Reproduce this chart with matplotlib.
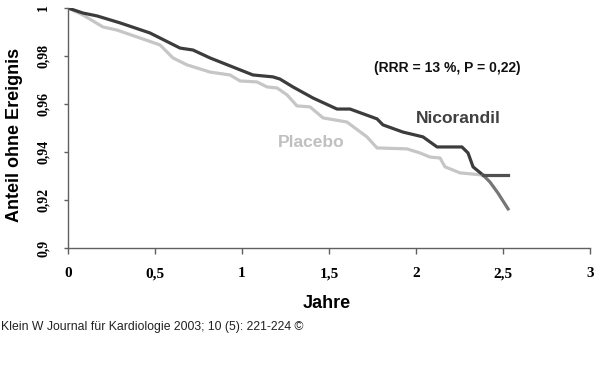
import numpy as np
import matplotlib
matplotlib.use("Agg")
import matplotlib.pyplot as plt

# Kaplan-Meier curves (years, proportion event-free)
nico_t = [0, 0.086, 0.167, 0.299, 0.471, 0.644, 0.718, 0.816, 0.948, 1.063, 1.178,
          1.218, 1.293, 1.408, 1.546, 1.621, 1.776, 1.810, 1.925, 2.040, 2.121,
          2.264, 2.299, 2.328, 2.385, 2.425, 2.471, 2.529]
nico_v = [1.0, 0.9979, 0.9967, 0.9938, 0.9896, 0.9833, 0.9825, 0.9792, 0.9754, 0.9721, 0.9713,
          0.9704, 0.9671, 0.9625, 0.9579, 0.9579, 0.9538, 0.9513, 0.9483, 0.9463, 0.9421,
          0.9421, 0.9396, 0.9338, 0.9304, 0.9275, 0.9229, 0.9163]

plac_t = [0, 0.086, 0.201, 0.282, 0.414, 0.529, 0.603, 0.684, 0.816, 0.931, 0.989,
          1.086, 1.144, 1.201, 1.259, 1.316, 1.391, 1.466, 1.603, 1.718, 1.776,
          1.948, 2.023, 2.080, 2.138, 2.167, 2.253, 2.385, 2.529]
plac_v = [1.0, 0.9971, 0.9921, 0.9908, 0.9875, 0.9846, 0.9792, 0.9763, 0.9733, 0.9721, 0.9696,
          0.9692, 0.9671, 0.9667, 0.9638, 0.9592, 0.9588, 0.9542, 0.9525, 0.9463, 0.9417,
          0.9413, 0.9396, 0.9379, 0.9375, 0.9338, 0.9313, 0.9304, 0.9304]

t_cross = 2.385

x_ticks = [0, 0.5, 1, 1.5, 2, 2.5, 3]
x_labels = ["0", "0,5", "1", "1,5", "2", "2,5", "3"]
y_ticks = [0.9, 0.92, 0.94, 0.96, 0.98, 1.0]
y_labels = ["0,9", "0,92", "0,94", "0,96", "0,98", "1"]

DARK = "#3c3c3c"
LIGHT = "#c6c6c6"
MID = "#767676"

fig = plt.figure(figsize=(6.0, 3.76), dpi=100)
ax = fig.add_axes([68 / 600, 1 - 248 / 376, (590 - 68) / 600, 240 / 376])

nt, nv = np.array(nico_t), np.array(nico_v)
pt, pv = np.array(plac_t), np.array(plac_v)

# before the crossing
ax.plot(pt[pt <= t_cross], pv[pt <= t_cross], color=LIGHT, lw=2.3, solid_joinstyle="round")
ax.plot(nt[nt <= t_cross], nv[nt <= t_cross], color=DARK, lw=2.3, solid_joinstyle="round")
# after the crossing
ax.plot(nt[nt >= t_cross], nv[nt >= t_cross], color=MID, lw=2.3, solid_joinstyle="round")
ax.plot(pt[pt >= t_cross], pv[pt >= t_cross], color="#505050", lw=2.3, solid_joinstyle="round")

ax.set_xlim(0, 3)
ax.set_ylim(0.9, 1.0)
for s in ("top", "right"):
    ax.spines[s].set_visible(False)
for s in ("left", "bottom"):
    ax.spines[s].set_color("#606060")
    ax.spines[s].set_linewidth(1.0)

ax.set_xticks(x_ticks)
ax.set_xticklabels(x_labels, family="Liberation Serif", fontweight="bold", fontsize=11)
ax.set_yticks(y_ticks)
ax.set_yticklabels(y_labels, family="Liberation Serif", fontweight="bold", fontsize=10,
                   rotation=90, va="center")
ax.tick_params(axis="x", length=4, width=1, color="#606060", pad=10)
ax.tick_params(axis="y", length=3, width=1, color="#606060", pad=10)

fig.text(15 / 600, 1 - 135 / 376, "Anteil ohne Ereignis", rotation=90, ha="center", va="center",
         family="Liberation Sans", fontweight="bold", fontsize=13)
fig.text(327 / 600, 1 - 304 / 376, "Jahre", ha="center", va="center",
         family="Liberation Sans", fontweight="bold", fontsize=13)

ax.text(2.178, 0.975, "(RRR = 13 %, P = 0,22)", ha="center", va="center",
        family="Liberation Sans", fontweight="bold", fontsize=10, color="#111111")
ax.text(2.241, 0.9540, "Nicorandil", ha="center", va="center",
        family="Liberation Sans", fontweight="bold", fontsize=12.5, color="#404040")
ax.text(1.397, 0.9438, "Placebo", ha="center", va="center",
        family="Liberation Sans", fontweight="bold", fontsize=12.5, color="#c0c0c0")

fig.text(0.002, 1 - 327 / 376, "Klein W Journal für Kardiologie 2003; 10 (5): 221-224 ©",
         ha="left", va="center", family="Liberation Sans", fontsize=8.8, color="#222222")

fig.savefig("out.png", dpi=100)
